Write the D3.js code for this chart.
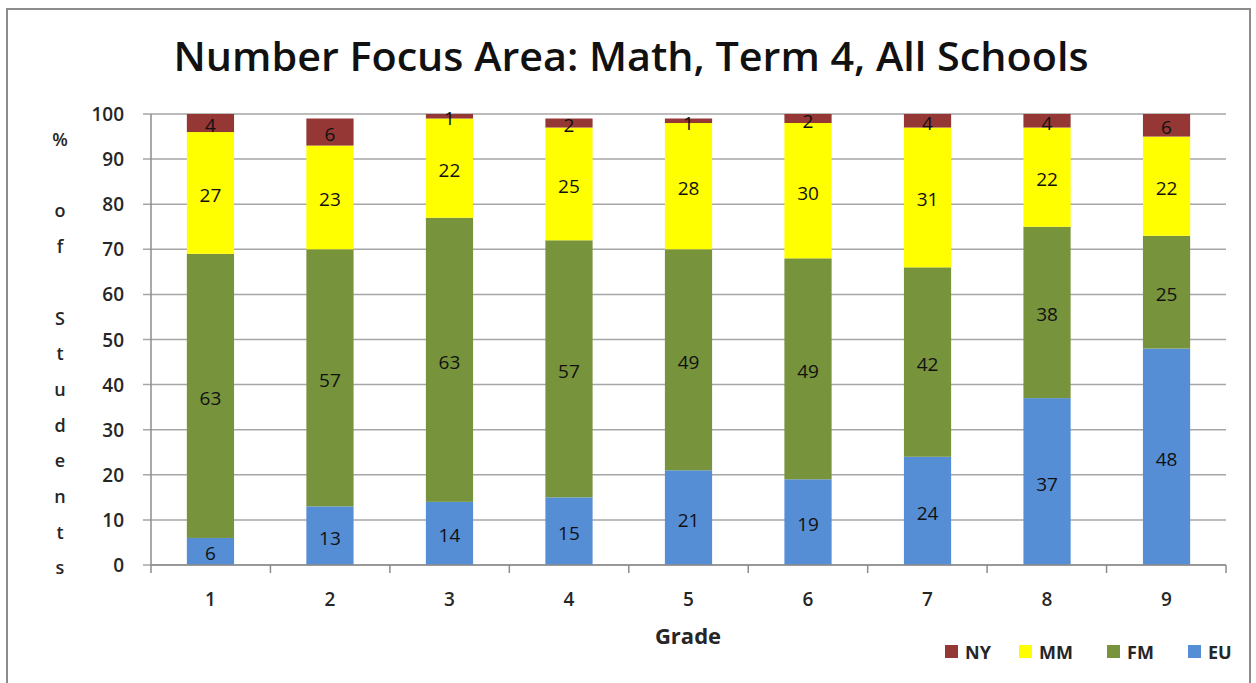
<!DOCTYPE html>
<html>
<head>
<meta charset="utf-8">
<script src="https://cdn.jsdelivr.net/npm/d3@7"></script>
<style>
  body { margin: 0; background: #fff; }
  svg { display: block; font-family: "Open Sans", Lato, sans-serif; }
</style>
</head>
<body>
<svg id="chart"></svg>
<script>
/* data */
var grades = ["1", "2", "3", "4", "5", "6", "7", "8", "9"];
var seriesNames = ["EU", "FM", "MM", "NY"];
var EU = [6, 13, 14, 15, 21, 19, 24, 37, 48];
var FM = [63, 57, 63, 57, 49, 49, 42, 38, 25];
var MM = [27, 23, 22, 25, 28, 30, 31, 22, 22];
var NY = [4, 6, 1, 2, 1, 2, 4, 4, 6];
var yTicks = [0, 10, 20, 30, 40, 50, 60, 70, 80, 90, 100];
var colors = { EU: "#558ED5", FM: "#77933C", MM: "#FFFF00", NY: "#953735" };
var legendOrder = ["NY", "MM", "FM", "EU"];

var W = 1256, H = 683;
var svg = d3.select('#chart').attr('width', W).attr('height', H);

/* outer frame */
svg.append('rect')
    .attr('x', 7).attr('y', 9)
    .attr('width', 1243).attr('height', 690)
    .attr('fill', 'none')
    .attr('stroke', '#8c8c8c')
    .attr('stroke-width', 2);

var plot = { left: 151, right: 1226, top: 114, bottom: 565 };

var x = d3.scaleBand().domain(grades).range([plot.left, plot.right]).paddingInner(0.605).paddingOuter(0.3);
var y = d3.scaleLinear().domain([0, 100]).range([plot.bottom, plot.top]);

var rows = grades.map(function (g, i) {
    return { grade: g, EU: EU[i], FM: FM[i], MM: MM[i], NY: NY[i] };
});
var stacked = d3.stack().keys(seriesNames)(rows);

/* gridlines + y ticks */
svg.append('g')
    .selectAll('line')
    .data(yTicks)
    .enter()
    .append('line')
    .attr('x1', plot.left - 8)
    .attr('x2', plot.right)
    .attr('y1', d => y(d))
    .attr('y2', d => y(d))
    .attr('stroke', '#a6a6a6')
    .attr('stroke-width', 1.5);

svg.append('g')
    .selectAll('text')
    .data(yTicks)
    .enter()
    .append('text')
    .attr('x', 124)
    .attr('y', d => y(d) + 7)
    .attr('text-anchor', 'end')
    .attr('font-size', '19px')
    .attr('font-weight', 600)
    .attr('fill', '#262626')
    .text(d => d);

/* clip bars at 100 */
svg.append('clipPath').attr('id', 'plotClip')
    .append('rect')
    .attr('x', plot.left).attr('y', plot.top)
    .attr('width', plot.right - plot.left).attr('height', plot.bottom - plot.top);

var layers = svg.append('g').attr('clip-path', 'url(#plotClip)')
    .selectAll('g.layer')
    .data(stacked)
    .enter()
    .append('g')
    .attr('class', 'layer')
    .attr('fill', d => colors[d.key]);

layers.selectAll('rect')
    .data(d => d)
    .enter()
    .append('rect')
    .attr('x', d => x(d.data.grade))
    .attr('width', x.bandwidth())
    .attr('y', d => y(Math.min(d[1], 100)))
    .attr('height', d => y(d[0]) - y(Math.min(d[1], 100)));

/* data labels */
var labels = svg.append('g');
stacked.forEach(function (s) {
    labels.selectAll('text.l' + s.key)
        .data(s)
        .enter()
        .append('text')
        .attr('class', 'l' + s.key)
        .attr('x', d => x(d.data.grade) + x.bandwidth() / 2)
        .attr('y', d => y((d[0] + Math.min(d[1], 100)) / 2) + 9)
        .attr('text-anchor', 'middle')
        .attr('font-size', '19px')
        .attr('fill', '#111')
        .text(d => d.data[s.key]);
});

/* axes lines */
svg.append('line')
    .attr('x1', plot.left).attr('x2', plot.left)
    .attr('y1', plot.top).attr('y2', plot.bottom)
    .attr('stroke', '#8c8c8c').attr('stroke-width', 1.5);
svg.append('line')
    .attr('x1', plot.left).attr('x2', plot.right)
    .attr('y1', plot.bottom).attr('y2', plot.bottom)
    .attr('stroke', '#8c8c8c').attr('stroke-width', 1.5);

svg.append('g')
    .selectAll('line')
    .data(d3.range(grades.length + 1))
    .enter()
    .append('line')
    .attr('x1', i => plot.left + i * (plot.right - plot.left) / grades.length)
    .attr('x2', i => plot.left + i * (plot.right - plot.left) / grades.length)
    .attr('y1', plot.bottom)
    .attr('y2', plot.bottom + 8)
    .attr('stroke', '#8c8c8c').attr('stroke-width', 1.5);

svg.append('g')
    .selectAll('text')
    .data(grades)
    .enter()
    .append('text')
    .attr('x', d => x(d) + x.bandwidth() / 2)
    .attr('y', 606)
    .attr('text-anchor', 'middle')
    .attr('font-size', '19px')
    .attr('font-weight', 600)
    .attr('fill', '#262626')
    .text(d => d);

/* titles */
svg.append('text')
    .attr('x', 631).attr('y', 71)
    .attr('text-anchor', 'middle')
    .attr('font-size', '39px')
    .attr('font-weight', 600)
    .attr('fill', '#111')
    .attr('textLength', 915)
    .attr('lengthAdjust', 'spacingAndGlyphs')
    .text('Number Focus Area: Math, Term 4, All Schools');

svg.append('text')
    .attr('x', 688).attr('y', 644)
    .attr('text-anchor', 'middle')
    .attr('font-size', '22px')
    .attr('font-weight', 'bold')
    .attr('fill', '#262626')
    .text('Grade');

/* stacked y title */
var yTitle = "% of Students".split('');
svg.append('g')
    .selectAll('text')
    .data(yTitle)
    .enter()
    .append('text')
    .attr('x', 60)
    .attr('y', (d, i) => 146 + i * 35.7)
    .attr('text-anchor', 'middle')
    .attr('font-size', '18px')
    .attr('font-weight', 600)
    .attr('fill', '#262626')
    .text(d => d);

/* legend */
var legendX = [945, 1019, 1107, 1188];
var legend = svg.append('g')
    .selectAll('g')
    .data(legendOrder)
    .enter()
    .append('g')
    .attr('transform', (d, i) => `translate(${legendX[i]},645)`);
legend.append('rect')
    .attr('width', 13).attr('height', 13)
    .attr('fill', d => colors[d]);
legend.append('text')
    .attr('x', 20).attr('y', 14)
    .attr('font-size', '18px')
    .attr('font-weight', 'bold')
    .attr('fill', '#262626')
    .text(d => d);
</script>
</body>
</html>
